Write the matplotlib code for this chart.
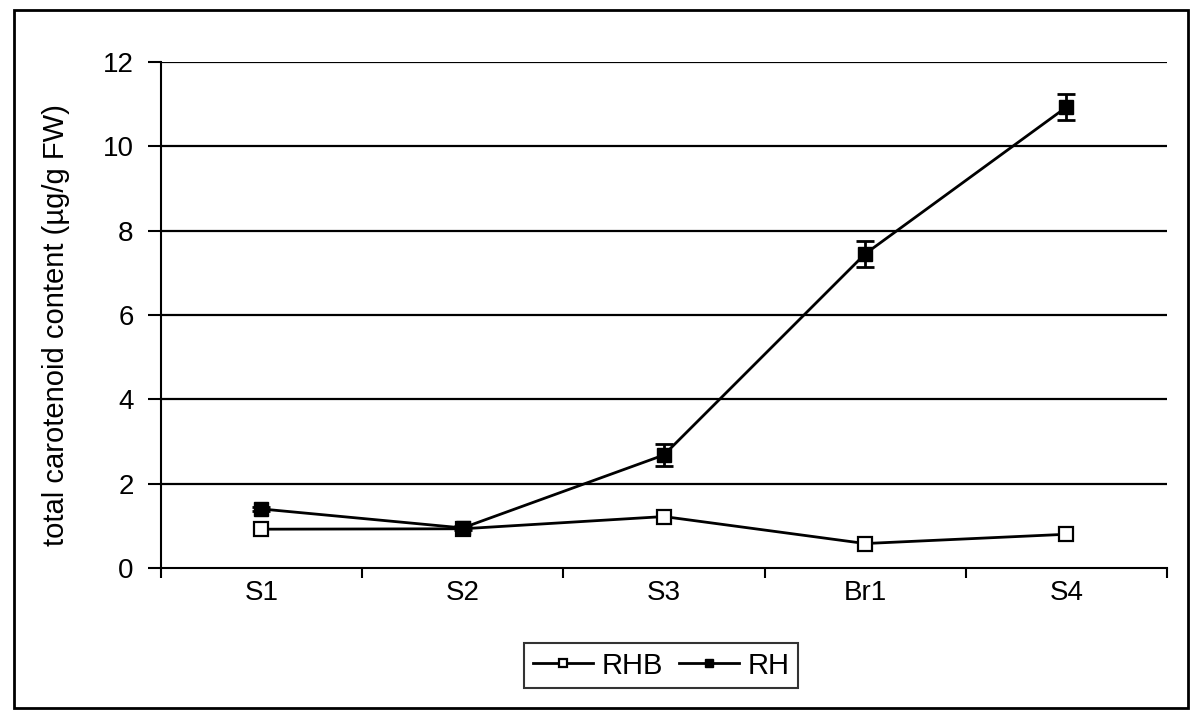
import numpy as np
import matplotlib.pyplot as plt

plt.rcParams['font.family'] = ['Liberation Sans', 'DejaVu Sans']

stages = ['S1', 'S2', 'S3', 'Br1', 'S4']
rhb = [0.92, 0.93, 1.22, 0.58, 0.80]
rh = [1.40, 0.95, 2.68, 7.45, 10.93]
rh_err = [0.05, 0.05, 0.27, 0.30, 0.30]

fig = plt.figure(figsize=(12, 7.23), dpi=100)
fig.patches.append(plt.Rectangle((0.012, 0.021), 0.978, 0.965, transform=fig.transFigure,
                                 fill=False, edgecolor='black', linewidth=2))
ax = fig.add_axes([0.134, 0.2144, 0.8385, 0.6998])

x = np.arange(len(stages))
ax.plot(x, rhb, '-s', color='black', mfc='white', mec='black', mew=1.6,
        markersize=10, linewidth=2, label='RHB', zorder=3)
ax.plot(x, rh, '-s', color='black', mfc='black', markersize=10,
        linewidth=2, label='RH', zorder=4)
ax.errorbar(x, rh, yerr=rh_err, fmt='none', ecolor='black',
            elinewidth=2, capsize=6.5, capthick=2, zorder=4)

ax.set_xlim(-0.5, len(stages) - 0.5)
ax.set_ylim(0, 12)
ax.set_yticks(np.arange(0, 13, 2))
ax.set_xticks(x)
ax.set_xticklabels(stages)
ax.set_xticks(np.arange(-0.5, len(stages), 1), minor=True)
ax.tick_params(axis='x', which='major', length=0, pad=9, labelsize=20)
ax.tick_params(axis='x', which='minor', length=7.5, width=1.5)
ax.tick_params(axis='y', length=9.5, width=1.5, labelsize=20, pad=10)
for y in range(2, 13, 2):
    ax.axhline(y, color='black', linewidth=1.6, zorder=1)
ax.spines['top'].set_visible(False)
ax.spines['right'].set_visible(False)
ax.spines['left'].set_linewidth(1.5)
ax.spines['bottom'].set_linewidth(1.5)
ax.set_ylabel('total carotenoid content (µg/g FW)', fontsize=21)
ax.yaxis.set_label_coords(-0.0905, 0.48)

handles, labels = ax.get_legend_handles_labels()
leg = fig.legend(handles, labels, loc='center', bbox_to_anchor=(0.551, 0.0795), ncol=2,
                 fontsize=21, frameon=True, fancybox=False, edgecolor='black',
                 handlelength=2.07, handletextpad=0.28, columnspacing=0.55,
                 borderpad=0.3, borderaxespad=0, markerscale=0.62)
leg.get_frame().set_linewidth(1.5)

fig.savefig('out.png', dpi=100)
